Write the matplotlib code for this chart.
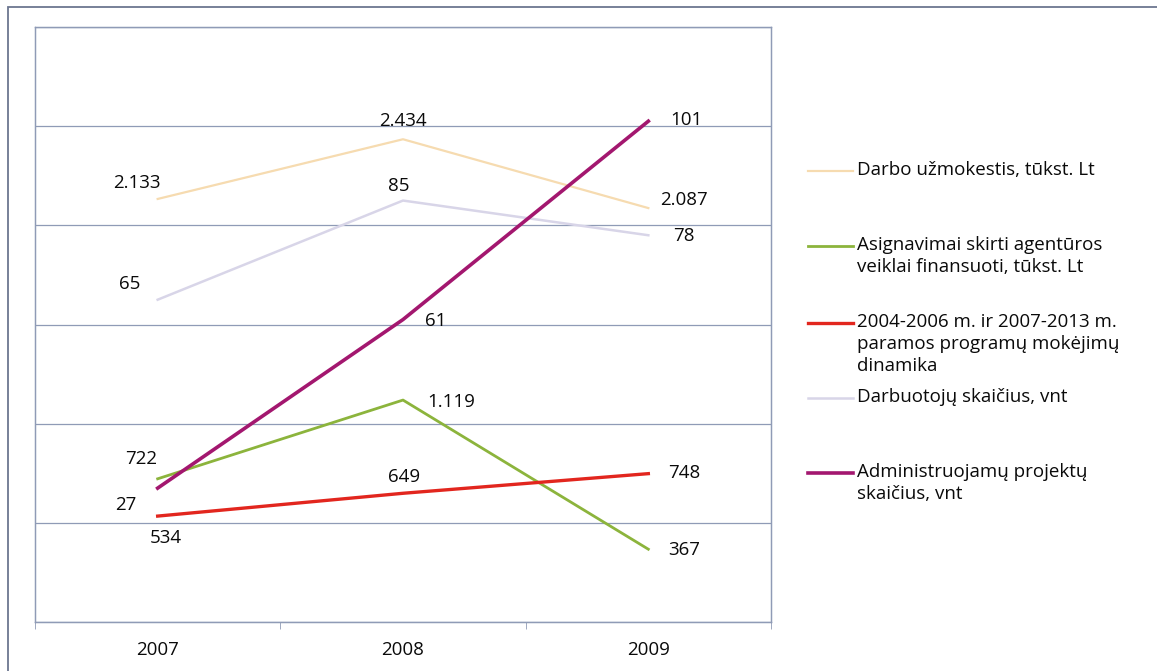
import matplotlib.pyplot as plt
from matplotlib.lines import Line2D
from matplotlib.patches import Rectangle

# Metai
years = ['2007', '2008', '2009']

# Tūkst. Lt rodikliai (kairė ašis)
darbo_uzmokestis = [2133, 2434, 2087]
asignavimai = [722, 1119, 367]
mokejimai = [534, 649, 748]

# Vienetais (dešinė, paslėpta ašis)
darbuotojai = [65, 85, 78]
projektai = [27, 61, 101]

legend_labels = [
    'Darbo užmokestis, tūkst. Lt',
    'Asignavimai skirti agentūros\nveiklai finansuoti, tūkst. Lt',
    '2004-2006 m. ir 2007-2013 m.\nparamos programų mokėjimų\ndinamika',
    'Darbuotojų skaičius, vnt',
    'Administruojamų projektų\nskaičius, vnt',
]

c_darbo = '#f6dbb0'
c_asign = '#8cb43c'
c_mok = '#e2261e'
c_darb = '#d8d5e8'
c_proj = '#a3176f'
grid_c = '#8f9bb6'
text_c = '#0a0a0a'
FS = 13.5

plt.rcParams['font.family'] = ['Open Sans', 'DejaVu Sans']


def fmt(v):
    return f'{v:,}'.replace(',', '.')


fig = plt.figure(figsize=(11.57, 6.71), dpi=100)
W, H = 1157, 671

# outer frame (only top/left edges fall inside the image)
fig.patches.append(Rectangle((8 / W, -0.2), 1.3, (671 - 7) / H + 0.2,
                             transform=fig.transFigure, fill=False,
                             edgecolor='#6c7690', lw=1.3))

ax = fig.add_axes([35 / W, 1 - 622 / H, (771 - 35) / W, (622 - 27) / H])
ax2 = ax.twinx()

x = range(len(years))
ax.set_xlim(-0.5, 2.5)
ax.set_ylim(0, 3000)
ax.set_yticks(range(0, 3001, 500))
ax.yaxis.grid(True, color=grid_c, lw=0.9)
ax.set_axisbelow(True)
ax.tick_params(axis='y', left=False, labelleft=False)
ax2.set_ylim(0, 120)
ax2.set_yticks([])

ax.set_xticks(list(x))
ax.set_xticklabels(years, fontsize=FS, color=text_c)
ax.set_xticks([-0.5, 0.5, 1.5, 2.5], minor=True)
ax.tick_params(axis='x', which='major', length=0, pad=14)
ax.tick_params(axis='x', which='minor', length=5, color=grid_c, direction='out')

for a in (ax, ax2):
    for s in a.spines.values():
        s.set_color(grid_c)
        s.set_linewidth(0.9)

ax.plot(x, darbo_uzmokestis, color=c_darbo, lw=1.6)
ax2.plot(x, darbuotojai, color=c_darb, lw=1.8)
ax.plot(x, asignavimai, color=c_asign, lw=2.0)
ax.plot(x, mokejimai, color=c_mok, lw=2.4)
ax2.plot(x, projektai, color=c_proj, lw=2.6)

# data labels with pixel offsets
label_sets = [
    (ax, darbo_uzmokestis, [(-21, 16), (0, 18), (36, 8)]),
    (ax, asignavimai, [(-17, 20), (48, -2), (36, -1)]),
    (ax, mokejimai, [(8, -22), (1, 16), (36, 1)]),
    (ax2, darbuotojai, [(-28, 16), (-4, 15), (36, -1)]),
    (ax2, projektai, [(-32, -17), (33, -1), (38, 1)]),
]
for a, vals, offs in label_sets:
    for i, (v, off) in enumerate(zip(vals, offs)):
        a.annotate(fmt(v), (i, v), xytext=off, textcoords='offset pixels',
                   ha='center', va='center', fontsize=FS, color=text_c)

# legend on the right
legend_y = [171, 246, 323, 398, 473]
colors = [c_darbo, c_asign, c_mok, c_darb, c_proj]
widths = [1.6, 2.0, 2.4, 1.8, 2.6]
for yy, lab, c, w in zip(legend_y, legend_labels, colors, widths):
    fy = 1 - yy / H
    fig.add_artist(Line2D([808 / W, 853 / W], [fy, fy], color=c, lw=w,
                          transform=fig.transFigure))
    fig.text(857 / W, 1 - (yy - 10) / H, lab, fontsize=FS, va='top',
             ha='left', linespacing=1.28, color=text_c)

fig.savefig('out.png', dpi=100)
